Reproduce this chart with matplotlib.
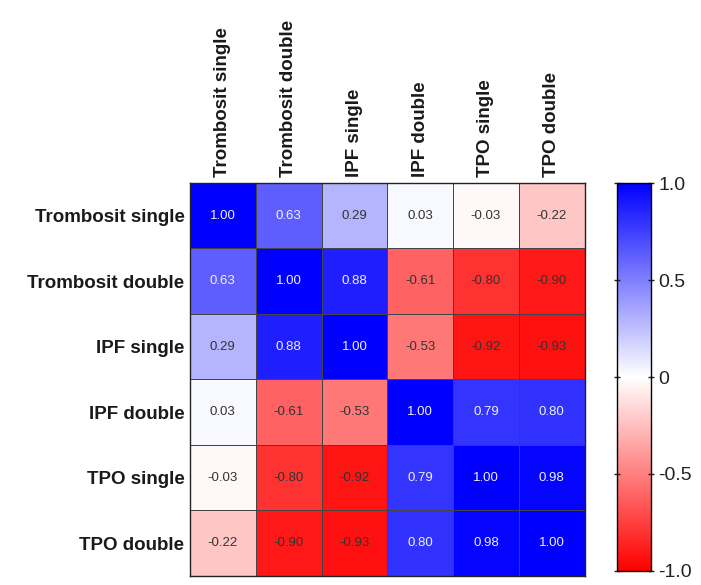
import numpy as np
import matplotlib.pyplot as plt
from matplotlib.colors import LinearSegmentedColormap

plt.rcParams['font.family'] = ['Liberation Sans', 'DejaVu Sans']

labels = ['Trombosit single', 'Trombosit double', 'IPF single', 'IPF double', 'TPO single', 'TPO double']
corr = np.array([
    [1.00, 0.63, 0.29, 0.03, -0.03, -0.22],
    [0.63, 1.00, 0.88, -0.61, -0.80, -0.90],
    [0.29, 0.88, 1.00, -0.53, -0.92, -0.93],
    [0.03, -0.61, -0.53, 1.00, 0.79, 0.80],
    [-0.03, -0.80, -0.92, 0.79, 1.00, 0.98],
    [-0.22, -0.90, -0.93, 0.80, 0.98, 1.00],
])

cmap = LinearSegmentedColormap.from_list('rwb', ['#ff0000', '#ffffff', '#0000ff'])

fig = plt.figure(figsize=(7.01, 5.85), dpi=100)
ax = fig.add_axes([0.271, 0.0154, 0.563, 0.672])
im = ax.pcolormesh(corr, cmap=cmap, vmin=-1, vmax=1, edgecolor='#444444', linewidth=0.6)
ax.set_xlim(0, 6)
ax.set_ylim(6, 0)
for s in ax.spines.values():
    s.set_linewidth(1.0)
    s.set_color('#222222')

ax.set_xticks(np.arange(6) + 0.5)
ax.set_yticks(np.arange(6) + 0.5)
ax.xaxis.tick_top()
ax.set_xticklabels(labels, rotation=90, fontsize=13.5, fontweight='bold', color='#1a1a1a')
ax.set_yticklabels(labels, fontsize=13.5, fontweight='bold', color='#1a1a1a')
ax.tick_params(length=0, pad=4)

for i in range(6):
    for j in range(6):
        v = corr[i, j]
        col = '#f0f0ff' if v > 0.5 else '#333333'
        ax.text(j + 0.5, i + 0.5, f'{v:.2f}', ha='center', va='center', fontsize=9.5, color=col)

cax = fig.add_axes([0.880, 0.024, 0.0485, 0.663])
cb = fig.colorbar(im, cax=cax, ticks=[-1, -0.5, 0, 0.5, 1])
cb.ax.set_yticklabels(['-1.0', '-0.5', '0', '0.5', '1.0'])
cb.ax.tick_params(labelsize=14, length=4, width=1, direction='inout', left=True, right=True, colors='#222222')
cb.outline.set_linewidth(1.0)

fig.savefig('out.png', dpi=100)
